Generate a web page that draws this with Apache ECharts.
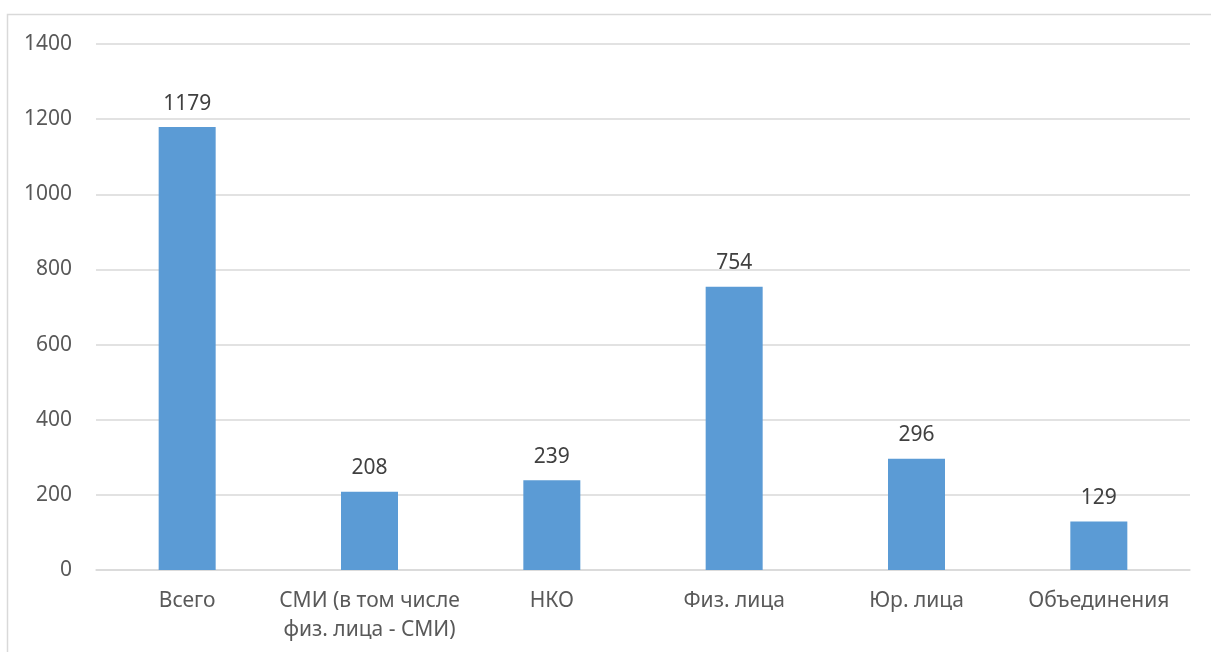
<!DOCTYPE html>
<html><head><meta charset="utf-8">
<script src="https://cdn.jsdelivr.net/npm/echarts@6/dist/echarts.min.js"></script>
<style>html,body{margin:0;padding:0;background:#fff}#c{width:1211px;height:652px}</style>
</head><body><div id="c"></div>
<script>
const categories = ['Всего', 'СМИ (в том числе\nфиз. лица - СМИ)', 'НКО', 'Физ. лица', 'Юр. лица', 'Объединения'];
const values = [1179, 208, 239, 754, 296, 129];
const yTicks = [0, 200, 400, 600, 800, 1000, 1200, 1400];

const chart = echarts.init(document.getElementById('c'), null, {renderer: 'canvas'});
const font = '"Noto Sans", sans-serif';
chart.setOption({
  animation: false,
  backgroundColor: '#fff',
  graphic: [{type: 'rect', shape: {x: 7.5, y: 14.5, width: 1400, height: 800}, style: {fill: 'none', stroke: '#d9d9d9', lineWidth: 1.5}, silent: true}],
  grid: {left: 96, right: 21, top: 44, bottom: 82, containLabel: false},
  xAxis: {
    type: 'category', data: categories,
    axisLine: {lineStyle: {color: '#d9d9d9', width: 1.5}},
    axisTick: {show: false},
    axisLabel: {color: '#595959', fontSize: 21, fontFamily: font, margin: 17, lineHeight: 29, interval: 0}
  },
  yAxis: {
    type: 'value', min: yTicks[0], max: yTicks[yTicks.length - 1], interval: 200,
    axisLine: {show: false}, axisTick: {show: false},
    splitLine: {lineStyle: {color: '#d9d9d9', width: 1.5}},
    axisLabel: {color: '#595959', fontSize: 21, fontFamily: font, margin: 24, formatter: v => String(v)}
  },
  series: [{
    type: 'bar', data: values, barWidth: 57,
    itemStyle: {color: '#5b9bd5'},
    label: {show: true, position: 'top', distance: 13, color: '#404040', fontSize: 21, fontFamily: font}
  }]
});
</script></body></html>
